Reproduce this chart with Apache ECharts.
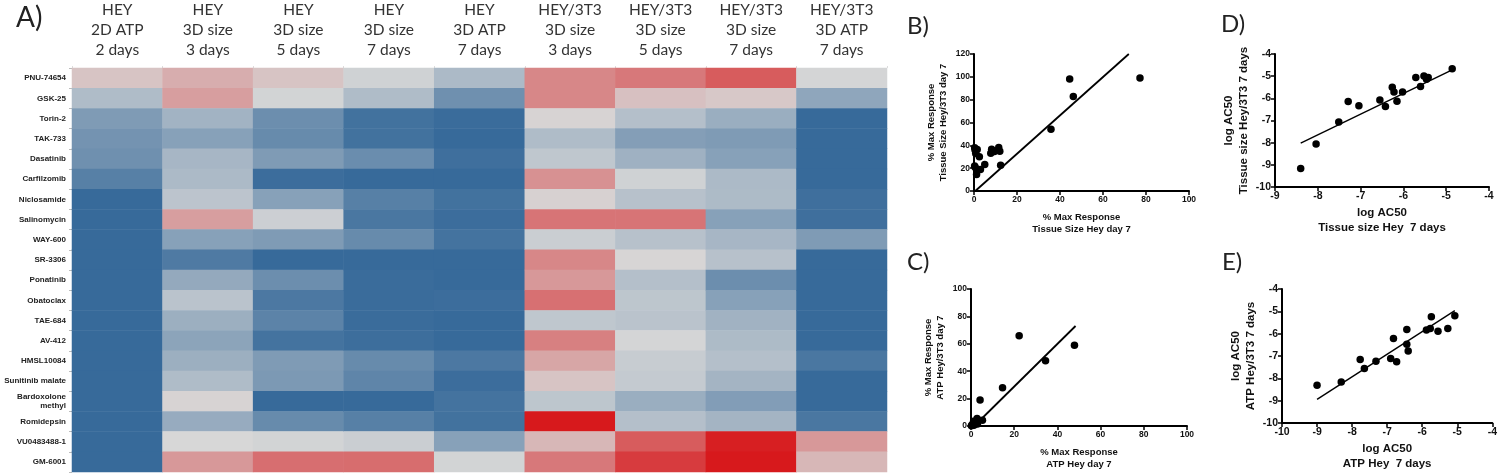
<!DOCTYPE html>
<html><head><meta charset="utf-8">
<script src="https://cdn.jsdelivr.net/npm/echarts@6/dist/echarts.min.js"></script>
<style>html,body{margin:0;padding:0;background:#fff}#c{width:1500px;height:473px}</style>
</head><body><div id="c"></div>
<script>
// ---------- Panel A: heatmap ----------
const columnLabels = [
  'HEY\n2D ATP\n2 days', 'HEY\n3D size\n3 days', 'HEY\n3D size\n5 days', 'HEY\n3D size\n7 days', 'HEY\n3D ATP\n7 days',
  'HEY/3T3\n3D size\n3 days', 'HEY/3T3\n3D size\n5 days', 'HEY/3T3\n3D size\n7 days', 'HEY/3T3\n3D ATP\n7 days'
];
const drugs = ['PNU-74654','GSK-25','Torin-2','TAK-733','Dasatinib','Carfilzomib','Niclosamide','Salinomycin','WAY-600','SR-3306',
  'Ponatinib','Obatoclax','TAE-684','AV-412','HMSL10084','Sunitinib malate','Bardoxolone\nmethyl','Romidepsin','VU0483488-1','GM-6001'];
// relative response per column (-1 = strong blue, 0 = neutral, +1 = strong red), one value per drug
const hey2dAtp2d   = [0.1,-0.25,-0.55,-0.62,-0.65,-0.8,-1,-1,-1,-1,-1,-1,-1,-1,-1,-1,-1,-1,-1,-1];
const hey3dSize3d  = [0.22,0.3,-0.33,-0.5,-0.3,-0.27,-0.17,0.3,-0.5,-0.85,-0.42,-0.18,-0.37,-0.47,-0.37,-0.25,0.02,-0.4,0,0.33];
const hey3dSize5d  = [0.1,-0.03,-0.67,-0.7,-0.55,-0.97,-0.5,-0.07,-0.55,-1,-0.67,-0.87,-0.77,-0.92,-0.55,-0.57,-1,-0.7,-0.03,0.55];
const hey3dSize7d  = [-0.05,-0.25,-0.93,-0.93,-0.68,-1,-0.8,-0.88,-0.7,-1,-0.98,-0.98,-0.98,-0.96,-0.7,-0.75,-1,-0.8,-0.08,0.56];
const hey3dAtp7d   = [-0.27,-0.65,-0.98,-1,-0.95,-1,-0.93,-0.97,-0.92,-1,-1,-0.97,-1,-1,-0.87,-0.97,-0.92,-0.93,-0.5,-0.03];
const co3dSize3d   = [0.42,0.42,0.02,-0.25,-0.15,0.37,0.03,0.52,-0.08,0.42,0.33,0.54,-0.15,0.46,0.26,0.1,-0.16,1,0.17,0.5];
const co3dSize5d   = [0.5,0.12,-0.22,-0.52,-0.35,-0.05,-0.2,0.52,-0.2,0.01,-0.22,-0.16,-0.18,-0.02,-0.1,-0.12,-0.38,-0.22,0.65,0.82];
const co3dSize7d   = [0.65,0.08,-0.38,-0.55,-0.5,-0.27,-0.26,-0.5,-0.3,-0.2,-0.67,-0.5,-0.34,-0.26,-0.22,-0.32,-0.53,-0.32,0.97,1];
const co3dAtp7d    = [-0.02,-0.45,-1,-1,-1,-1,-0.95,-0.95,-0.55,-1,-1,-1,-1,-1,-0.88,-1,-1,-0.88,0.33,0.17];
const heatColumns = [hey2dAtp2d,hey3dSize3d,hey3dSize5d,hey3dSize7d,hey3dAtp7d,co3dSize3d,co3dSize5d,co3dSize7d,co3dAtp7d];

// ---------- Panel B: % max response, tissue size day 7 ----------
const bHey   = [0.3,0.5,0.8,1.5,2.5,0.3,0.6,1.2,3,5,7.8,8.2,9.5,11.5,12,12.4,35.8,44.5,46.2,77.2];
const bCo    = [37.8,36,32.9,36.4,29.9,22,20.5,14.4,18.8,23.2,33,36.5,34.5,38.2,34.8,22.6,54,98,82.7,99];
const bFitX  = [0.6,72];
const bFitY  = [0,120];
// ---------- Panel C: % max response, ATP day 7 ----------
const cHey   = [22.3,47.9,34.5,14.6,4.2,2.8,5.3,1.2,2,0.5,1,3,0.2,1.5];
const cCo    = [65.8,58.9,47.7,27.9,19,5.5,4.2,3.5,2,1,0.5,1.5,0.2,0.8];
const cFitX  = [1.5,48.4];
const cFitY  = [0,73];
// ---------- Panel D: log AC50, tissue size 7 days ----------
const dHey   = [-4.86,-5.71,-5.52,-5.46,-5.42,-5.6,-6.02,-6.26,-6.22,-6.15,-6.42,-6.55,-7.04,-7.29,-7.51,-8.04,-8.4];
const dCo    = [-4.67,-5.06,-4.99,-5.14,-5.06,-5.47,-5.71,-5.5,-5.71,-6.13,-6.37,-6.07,-6.34,-6.14,-7.07,-8.06,-9.16];
const dFitX  = [-8.4,-4.86];
const dFitY  = [-8.02,-4.72];
// ---------- Panel E: log AC50, ATP 7 days ----------
const eHey   = [-9,-8.31,-7.77,-7.65,-7.32,-6.9,-6.73,-6.82,-6.44,-6.44,-6.4,-5.88,-5.77,-5.74,-5.55,-5.27,-5.07];
const eCo    = [-8.31,-8.16,-7.16,-7.56,-7.23,-7.11,-7.26,-6.22,-5.81,-6.47,-6.78,-5.84,-5.77,-5.24,-5.89,-5.77,-5.2];
const eFitX  = [-9,-5.07];
const eFitY  = [-8.94,-4.97];

const zip = (a,b) => a.map((v,i)=>[v,b[i]]);
const heatData = [];
heatColumns.forEach((col,ci)=>col.forEach((v,ri)=>heatData.push([ci,ri,v])));

const SF = '"Liberation Sans", Arial, sans-serif';
function sAxis(gi, min, max, interval, name, gap, fs, lfs, isY){
  return {
    gridIndex: gi, type:'value', min, max, interval,
    name, nameLocation:'middle', nameGap: gap, nameRotate: isY?90:0,
    nameTextStyle:{fontFamily:SF, fontWeight:'bold', fontSize:fs, color:'#111', lineHeight: fs+3},
    axisLine:{show:true, onZero:false, lineStyle:{color:'#000', width:2}},
    axisTick:{show:true, length:4, lineStyle:{color:'#000', width:1.5}},
    axisLabel:{fontFamily:SF, fontWeight:'bold', fontSize:lfs, color:'#111', margin:4},
    splitLine:{show:false}
  };
}
function scatterSeries(gi, xs, ys, size){
  return {type:'scatter', xAxisIndex:gi, yAxisIndex:gi, data:zip(xs,ys), symbolSize:size,
    itemStyle:{color:'#000', opacity:1}, z:3, silent:true};
}
function fitSeries(gi, xs, ys, w){
  return {type:'line', xAxisIndex:gi, yAxisIndex:gi, data:zip(xs,ys), symbol:'none',
    lineStyle:{color:'#000', width:w}, silent:true, z:2};
}

const chart = echarts.init(document.getElementById('c'), null, {renderer:'canvas'});
chart.setOption({
  animation:false,
  backgroundColor:'#fff',
  grid:[
    {left:72, top:67, width:815, height:405},
    {left:974, top:54, width:215, height:137},
    {left:971, top:289, width:216, height:137},
    {left:1275, top:54, width:214, height:133},
    {left:1282, top:289, width:215, height:134}
  ],
  xAxis:[
    {gridIndex:0, type:'category', data:columnLabels, position:'top',
      axisLine:{show:false}, axisTick:{show:true, length:2, lineStyle:{color:'#ddd'}},
      axisLabel:{interval:0, fontFamily:'Lato, "Open Sans", sans-serif', fontSize:15.5, lineHeight:20, color:'#333', margin:8},
      splitLine:{show:false}},
    sAxis(1,0,100,20,'% Max Response\nTissue Size Hey day 7',20,9.5,8.5,false),
    sAxis(2,0,100,20,'% Max Response\nATP Hey day 7',20,9.5,8.5,false),
    sAxis(3,-9,-4,1,'log AC50\nTissue size Hey  7 days',19,11.5,10.5,false),
    sAxis(4,-10,-4,1,'log AC50\nATP Hey  7 days',19,11.5,10.5,false)
  ],
  yAxis:[
    {gridIndex:0, type:'category', data:drugs, inverse:true,
      axisLine:{show:false}, axisTick:{show:true, length:3, lineStyle:{color:'#bbb'}},
      axisLabel:{interval:0, fontFamily:SF, fontWeight:'bold', fontSize:8, lineHeight:9, color:'#222', margin:6},
      splitLine:{show:false}},
    sAxis(1,0,120,20,'% Max Response\nTissue Size Hey/3T3 day 7',24,9.5,8.5,true),
    sAxis(2,0,100,20,'% Max Response\nATP Hey/3T3 day 7',24,9.5,8.5,true),
    sAxis(3,-10,-4,1,'log AC50\nTissue size Hey/3T3 7 days',24,11.5,10.5,true),
    sAxis(4,-10,-4,1,'log AC50\nATP Hey/3T3 7 days',24,11.5,10.5,true)
  ],
  visualMap:{show:false, type:'continuous', seriesIndex:0, min:-1, max:1, dimension:2,
    inRange:{color:['#376a9a','#d7d7d7','#d7191c']}},
  series:[
    {type:'heatmap', xAxisIndex:0, yAxisIndex:0, data:heatData, silent:true,
      itemStyle:{borderWidth:0}},
    scatterSeries(1,bHey,bCo,7.5), fitSeries(1,bFitX,bFitY,1.8),
    scatterSeries(2,cHey,cCo,7.5), fitSeries(2,cFitX,cFitY,1.8),
    scatterSeries(3,dHey,dCo,7.5), fitSeries(3,dFitX,dFitY,1.4),
    scatterSeries(4,eHey,eCo,7.5), fitSeries(4,eFitX,eFitY,1.4)
  ],
  graphic:[
    {type:'text', left:16, top:4, style:{text:'A)', font:'28px Lato, "Open Sans", sans-serif', fill:'#222'}},
    {type:'text', left:907, top:14, style:{text:'B)', font:'24px Lato, "Open Sans", sans-serif', fill:'#222'}},
    {type:'text', left:907, top:250, style:{text:'C)', font:'24px Lato, "Open Sans", sans-serif', fill:'#222'}},
    {type:'text', left:1221, top:12, style:{text:'D)', font:'24px Lato, "Open Sans", sans-serif', fill:'#222'}},
    {type:'text', left:1222, top:250, style:{text:'E)', font:'24px Lato, "Open Sans", sans-serif', fill:'#222'}}
  ]
});
</script>
</body></html>
